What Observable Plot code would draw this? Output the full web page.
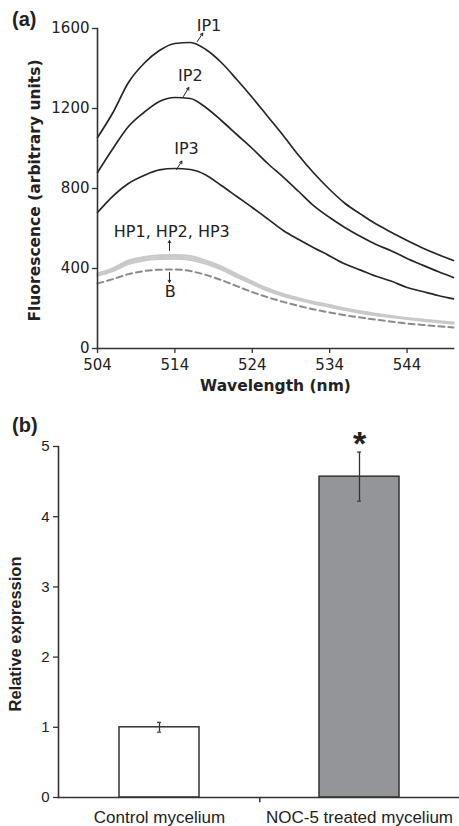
<!DOCTYPE html>
<html><head><meta charset="utf-8">
<script src="https://cdn.jsdelivr.net/npm/d3@7"></script>
<script src="https://cdn.jsdelivr.net/npm/@observablehq/plot@0.6"></script>
<style>
body{margin:0;background:#fff;}
#wrap{position:relative;width:459px;height:826px;overflow:hidden;background:#fff;}
.panel{position:absolute;left:0;}
.tag{position:absolute;font-family:"Liberation Sans",Arial,sans-serif;font-weight:bold;font-size:20px;color:#222;z-index:2;}
</style></head><body>
<div id="wrap">
 <div id="a" class="panel" style="top:0"></div>
 <div id="b" class="panel" style="top:400px"></div>
 <div class="tag" style="left:12px;top:8px">(a)</div>
 <div class="tag" style="left:12px;top:414px">(b)</div>
</div>
<script>
// ---------- Panel (a) data ----------
const wavelength = [504,506,508,510,512,514,516,518,520,522,524,526,528,530,532,534,536,538,540,542,544,546,548,550];
const ip1 = [1055,1180,1330,1425,1490,1525,1530,1495,1430,1345,1255,1160,1065,965,875,795,725,672,622,580,540,503,470,440];
const ip2 = [880,1000,1110,1180,1235,1255,1250,1205,1140,1070,1000,925,857,785,712,655,604,560,520,488,450,417,385,355];
const ip3 = [680,762,825,865,893,900,895,868,815,760,705,648,590,545,503,463,422,392,361,336,305,285,265,248];
const hp1 = [375,402,440,458,466,468,462,440,410,372,335,300,273,252,233,217,200,186,174,163,153,145,137,130];
const hp2 = [370,394,431,449,457,459,453,432,402,365,329,295,268,247,229,213,196,182,170,159,150,142,134,127];
const hp3 = [364,387,422,440,447,449,443,423,394,357,322,288,262,242,224,208,192,178,166,156,147,139,131,124];
const blank = [325,347,372,387,394,395,387,368,342,312,282,256,233,213,195,180,166,155,144,134,125,118,111,105];
const xTicks = [504,514,524,534,544];
const yTicksA = [0,400,800,1200,1600];
const labelsA = [
  {text:"IP1", w:518.4, v:1615},
  {text:"IP2", w:516.0, v:1362},
  {text:"IP3", w:515.5, v:997},
  {text:"HP1, HP2, HP3", w:513.6, v:585},
  {text:"B", w:513.4, v:285}
];
const arrowsA = [
  {w1:516.9, v1:1535, w2:517.6, v2:1577},
  {w1:515.1, v1:1260, w2:515.8, v2:1305},
  {w1:514.2, v1:895, w2:514.9, v2:937},
  {w1:513.3, v1:490, w2:513.3, v2:540},
  {w1:513.3, v1:380, w2:513.3, v2:330}
];

const seriesA = [
  {name:"IP1", vals:ip1, kind:"ip"},
  {name:"IP2", vals:ip2, kind:"ip"},
  {name:"IP3", vals:ip3, kind:"ip"},
  {name:"HP1", vals:hp1, kind:"hp"},
  {name:"HP2", vals:hp2, kind:"hp"},
  {name:"HP3", vals:hp3, kind:"hp"},
  {name:"B", vals:blank, kind:"b"}
];
const rowsA = seriesA.flatMap(s => s.vals.map((v,i) => ({series:s.name, kind:s.kind, w:wavelength[i], v})));

const fontA = "DejaVu Sans";
const plotA = Plot.plot({
  width:459, height:400,
  marginLeft:97, marginRight:6, marginTop:28, marginBottom:52,
  style:{fontFamily:fontA, fontSize:"15px", color:"#222", background:"transparent"},
  x:{domain:[504,550]},
  y:{domain:[0,1600]},
  marks:[
    Plot.line(rowsA.filter(d=>d.kind==="hp"), {x:"w", y:"v", z:"series", stroke:"#c9c9c9", strokeWidth:2, curve:"monotone-x"}),
    Plot.line(rowsA.filter(d=>d.kind==="b"), {x:"w", y:"v", z:"series", stroke:"#8a8a8a", strokeWidth:2, strokeDasharray:"6,4", curve:"monotone-x"}),
    Plot.line(rowsA.filter(d=>d.kind==="ip"), {x:"w", y:"v", z:"series", stroke:"#262626", strokeWidth:1.7, curve:"monotone-x"}),
    Plot.frame({anchor:"left", stroke:"#333", strokeWidth:1.6}),
    Plot.frame({anchor:"bottom", stroke:"#333", strokeWidth:1.6}),
    Plot.axisY({ticks:yTicksA, tickFormat:d=>String(d), tickSize:5, tickPadding:3, fontSize:15, label:null, stroke:"#333", strokeWidth:1.3}),
    Plot.axisX({ticks:xTicks, tickFormat:d=>String(d), tickSize:5, tickPadding:6, fontSize:15, label:null, stroke:"#333", strokeWidth:1.3}),
    Plot.text(["Fluorescence (arbitrary units)"], {frameAnchor:"left", textAnchor:"middle", dx:-62, dy:2, rotate:-90, fontWeight:"bold", fontSize:15.5, fill:"#222"}),
    Plot.text(["Wavelength (nm)"], {frameAnchor:"bottom", dy:42, fontWeight:"bold", fontSize:15.5, fill:"#222"}),
    Plot.text(labelsA, {x:"w", y:"v", text:"text", fontSize:16, fill:"#222"}),
    Plot.arrow(arrowsA, {x1:"w1", y1:"v1", x2:"w2", y2:"v2", stroke:"#222", strokeWidth:1, headLength:4})
  ]
});
document.getElementById("a").append(plotA);

// ---------- Panel (b) data ----------
const categories = ["Control mycelium", "NOC-5 treated mycelium"];
const expression = [1.0, 4.57];
const errorSize = [0.07, 0.35];
const barFill = ["#ffffff", "#939598"];
const yTicksB = [0,1,2,3,4,5];
const rowsB = categories.map((c,i) => ({cat:c, val:expression[i], lo:expression[i]-errorSize[i], hi:expression[i]+errorSize[i], fill:barFill[i]}));

const fontB = "Liberation Sans";
const plotB = Plot.plot({
  width:459, height:426,
  marginLeft:58, marginRight:0, marginTop:46, marginBottom:29,
  style:{fontFamily:fontB, fontSize:"15px", color:"#222", background:"transparent"},
  x:{domain:categories, paddingInner:0.6, paddingOuter:0.3},
  y:{domain:[0,5]},
  marks:[
    Plot.barY(rowsB, {x:"cat", y:"val", fill:"fill", stroke:"#333", strokeWidth:1.5}),
    Plot.ruleX(rowsB, {x:"cat", y1:"lo", y2:"hi", stroke:"#333", strokeWidth:1.3}),
    Plot.tickY(rowsB, {x:"cat", y:"lo", stroke:"#444", strokeWidth:1.3, insetLeft:38, insetRight:38}),
    Plot.tickY(rowsB, {x:"cat", y:"hi", stroke:"#444", strokeWidth:1.3, insetLeft:38, insetRight:38}),
    Plot.text(rowsB.filter(d=>d.cat===categories[1]), {x:"cat", y:()=>5.03, text:()=>"*", fontSize:34, fontWeight:"bold", fill:"#222"}),
    Plot.frame({anchor:"left", stroke:"#333", strokeWidth:1.6}),
    Plot.frame({anchor:"bottom", stroke:"#333", strokeWidth:1.6}),
    Plot.ruleX([categories[0]], {x:d=>d, y1:0, y2:-0.075, dx:100.25, stroke:"#333", strokeWidth:1.5}),
    Plot.axisY({ticks:yTicksB, tickFormat:d=>String(d), tickSize:5, tickPadding:4, fontSize:15, label:null, stroke:"#333", strokeWidth:1.3}),
    Plot.axisX({tickSize:0, tickPadding:13, fontSize:17, label:null}),
    Plot.text(["Relative expression"], {frameAnchor:"left", textAnchor:"middle", dx:-43, dy:12, rotate:-90, fontWeight:"bold", fontSize:16.5, fill:"#222"})
  ]
});
document.getElementById("b").append(plotB);
</script>
</body></html>
